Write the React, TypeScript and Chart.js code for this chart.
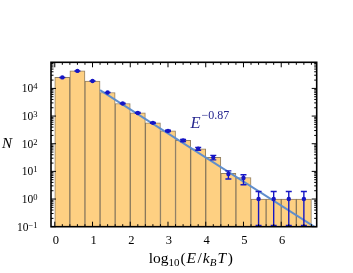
import React, { useEffect, useRef } from 'react';
import { Chart, registerables } from 'chart.js';

Chart.register(...registerables);

// ---- data ----
const binCenters = [0.2, 0.6, 1.0, 1.4, 1.8, 2.2, 2.6, 3.0, 3.4, 3.8, 4.2, 4.6, 5.0, 5.4, 5.8, 6.2, 6.6];
const counts = [25000, 43000, 18500, 7100, 2850, 1300, 570, 290, 132, 66, 32, 8.5, 6, 1, 1, 1, 1];
const pointValues = [25000, 43000, 18500, 7100, 2850, 1300, 570, 290, 132, 66, 32, 8, 5.8, 1, 1, 1, 1];
const errHigh = [25160, 43210, 18640, 7180, 2900, 1340, 594, 307, 143, 74, 38, 10.4, 7.6, 1.88, 1.88, 1.88, 1.88];
const errLow = [24840, 42790, 18360, 7020, 2800, 1260, 546, 273, 121, 58, 26, 5.3, 3.3, 0.11, 0.11, 0.11, 0.11];
const fitX = [1.2, 6.94];
const fitY = [8700, 0.088];
const fitLabelBase = 'E';
const fitLabelExponent = '−0.87';
const xTickLabels = [0, 1, 2, 3, 4, 5, 6];
const yTickExponents = [-1, 0, 1, 2, 3, 4];
const X_MIN = -0.1;
const X_MAX = 6.94;
const Y_MIN = 0.1;
const Y_MAX = 88000;

const SERIF = "'Liberation Serif', 'Times New Roman', 'DejaVu Serif', serif";
const fnt = (size: number, italic = false) => `${italic ? 'italic ' : ''}${size}px ${SERIF}`;

// [text, font size, italic, baseline shift, extra gap after]
type Run = [string, number, boolean, number, number?];

function runsWidth(ctx: CanvasRenderingContext2D, runs: Run[]) {
  let w = 0;
  for (const [t, s, it, , gap] of runs) {
    ctx.font = fnt(s, it);
    w += ctx.measureText(t).width + (gap || 0);
  }
  return w;
}
function drawRuns(ctx: CanvasRenderingContext2D, runs: Run[], x: number, y: number) {
  let cx = x;
  for (const [t, s, it, dy, gap] of runs) {
    ctx.font = fnt(s, it);
    ctx.fillText(t, cx, y + dy);
    cx += ctx.measureText(t).width + (gap || 0);
  }
}

const ERR_COLOR = '#1616c4';
const LABEL_BLUE = '#26268f';

const framePlugin = {
  id: 'framePlugin',
  afterDatasetDraw(chart: any, args: any) {
    if (args.index !== 1) return;
    const { ctx, chartArea: a, scales } = chart;
    const x = scales.x;
    const y = scales.y;
    ctx.save();
    ctx.beginPath();
    ctx.rect(a.left, a.top, a.width, a.height);
    ctx.clip();
    ctx.strokeStyle = ERR_COLOR;
    ctx.lineWidth = 1.4;
    ctx.beginPath();
    for (let i = 0; i < binCenters.length; i++) {
      const px = x.getPixelForValue(binCenters[i]);
      const t = y.getPixelForValue(errHigh[i]);
      const b = y.getPixelForValue(errLow[i]);
      ctx.moveTo(px, t);
      ctx.lineTo(px, b);
      ctx.moveTo(px - 3, t);
      ctx.lineTo(px + 3, t);
      ctx.moveTo(px - 3, b);
      ctx.lineTo(px + 3, b);
    }
    ctx.stroke();
    ctx.restore();
  },
  afterDraw(chart: any) {
    const { ctx, chartArea: a, scales } = chart;
    const x = scales.x;
    const y = scales.y;
    ctx.save();
    ctx.fillStyle = '#000';
    ctx.strokeStyle = '#000';

    // ticks (inward, all four sides)
    ctx.lineWidth = 1;
    ctx.beginPath();
    for (let k = 0; k * 0.2 <= X_MAX + 1e-9; k++) {
      const v = k * 0.2;
      const len = k % 5 === 0 ? 5 : 2.5;
      const px = x.getPixelForValue(v);
      ctx.moveTo(px, a.bottom);
      ctx.lineTo(px, a.bottom - len);
      ctx.moveTo(px, a.top);
      ctx.lineTo(px, a.top + len);
    }
    for (let d = -1; d <= 4; d++) {
      for (let m = 1; m <= 9; m++) {
        const v = m * Math.pow(10, d);
        if (v < Y_MIN * 0.999 || v > Y_MAX) continue;
        const len = m === 1 ? 5 : 2.5;
        const py = y.getPixelForValue(v);
        ctx.moveTo(a.left, py);
        ctx.lineTo(a.left + len, py);
        ctx.moveTo(a.right, py);
        ctx.lineTo(a.right - len, py);
      }
    }
    ctx.stroke();

    // frame
    ctx.lineWidth = 1.6;
    ctx.strokeRect(a.left, a.top, a.width, a.height);

    // x tick labels
    ctx.textBaseline = 'alphabetic';
    ctx.textAlign = 'center';
    ctx.font = fnt(12.5);
    for (const v of xTickLabels) {
      ctx.fillText(String(v), x.getPixelForValue(v) + 1, a.bottom + 17.5);
    }

    // y tick labels 10^e
    ctx.textAlign = 'left';
    for (const e of yTickExponents) {
      const py = y.getPixelForValue(Math.pow(10, e));
      const sup = e < 0 ? '−' + String(-e) : String(e);
      const runs: Run[] = [['10', 11.5, false, 0], [sup, 8.5, false, -3]];
      const w = runsWidth(ctx, runs);
      drawRuns(ctx, runs, a.left - 13.5 - w, py + 4);
    }

    // y title
    ctx.textAlign = 'center';
    ctx.font = fnt(15, true);
    ctx.fillText('N', 7, 147.5);

    // x title log10(E/k_B T)
    ctx.textAlign = 'left';
    const xt: Run[] = [
      ['log', 15.5, false, 0, 0],
      ['10', 11, false, 3.5, 1],
      ['(', 15.5, false, 0, 0.8],
      ['E', 15.5, true, 0, 1.5],
      ['/', 15.5, false, 0, 0.8],
      ['k', 15.5, true, 0, 0.3],
      ['B', 11, true, 3.5, 1],
      ['T', 15.5, true, 0, 1.5],
      [')', 15.5, false, 0, 0],
    ];
    const xtw = runsWidth(ctx, xt);
    drawRuns(ctx, xt, 190.8 - xtw / 2, a.bottom + 36);

    // fit annotation
    ctx.fillStyle = LABEL_BLUE;
    const ann: Run[] = [[fitLabelBase, 16.5, true, 0, 1], [fitLabelExponent, 12, false, -9]];
    drawRuns(ctx, ann, 190.5, 128);

    ctx.restore();
  },
};

export default function App() {
  const ref = useRef<HTMLCanvasElement | null>(null);
  useEffect(() => {
    if (!ref.current) return;
    const chart = new Chart(ref.current, {
      type: 'bar',
      data: {
        datasets: [
          {
            type: 'bar',
            data: binCenters.map((c, i) => ({ x: c, y: counts[i] })),
            backgroundColor: 'rgb(254, 208, 130)',
            borderColor: 'rgba(125, 105, 72, 0.85)',
            borderWidth: 1,
            categoryPercentage: 1,
            barPercentage: 1,
            order: 3,
          } as any,
          {
            type: 'line',
            data: fitX.map((v, i) => ({ x: v, y: fitY[i] })),
            borderColor: 'rgb(96, 142, 204)',
            borderWidth: 2,
            pointRadius: 0,
            fill: false,
            order: 2,
          } as any,
          {
            type: 'scatter',
            data: binCenters.map((c, i) => ({ x: c, y: pointValues[i] })),
            backgroundColor: ERR_COLOR,
            borderColor: ERR_COLOR,
            borderWidth: 0,
            pointRadius: 2.2,
            order: 1,
          } as any,
        ],
      },
      options: {
        animation: false,
        responsive: false,
        devicePixelRatio: 1,
        layout: { padding: { left: 51, right: 36.3, top: 62.3, bottom: 46.3 } },
        plugins: { legend: { display: false }, tooltip: { enabled: false } },
        scales: {
          x: {
            type: 'linear',
            display: false,
            offset: false,
            grid: { offset: false },
            min: X_MIN,
            max: X_MAX,
            ticks: { stepSize: 1, includeBounds: false },
          },
          y: {
            type: 'logarithmic',
            display: false,
            min: Y_MIN,
            max: Y_MAX,
          },
        },
      } as any,
      plugins: [framePlugin],
    });
    return () => chart.destroy();
  }, []);
  return (
    <div style={{ position: 'absolute', left: 0, top: 0, width: 353, height: 273, background: '#fff' }}>
      <canvas ref={ref} width={353} height={273} style={{ display: 'block' }} />
    </div>
  );
}
